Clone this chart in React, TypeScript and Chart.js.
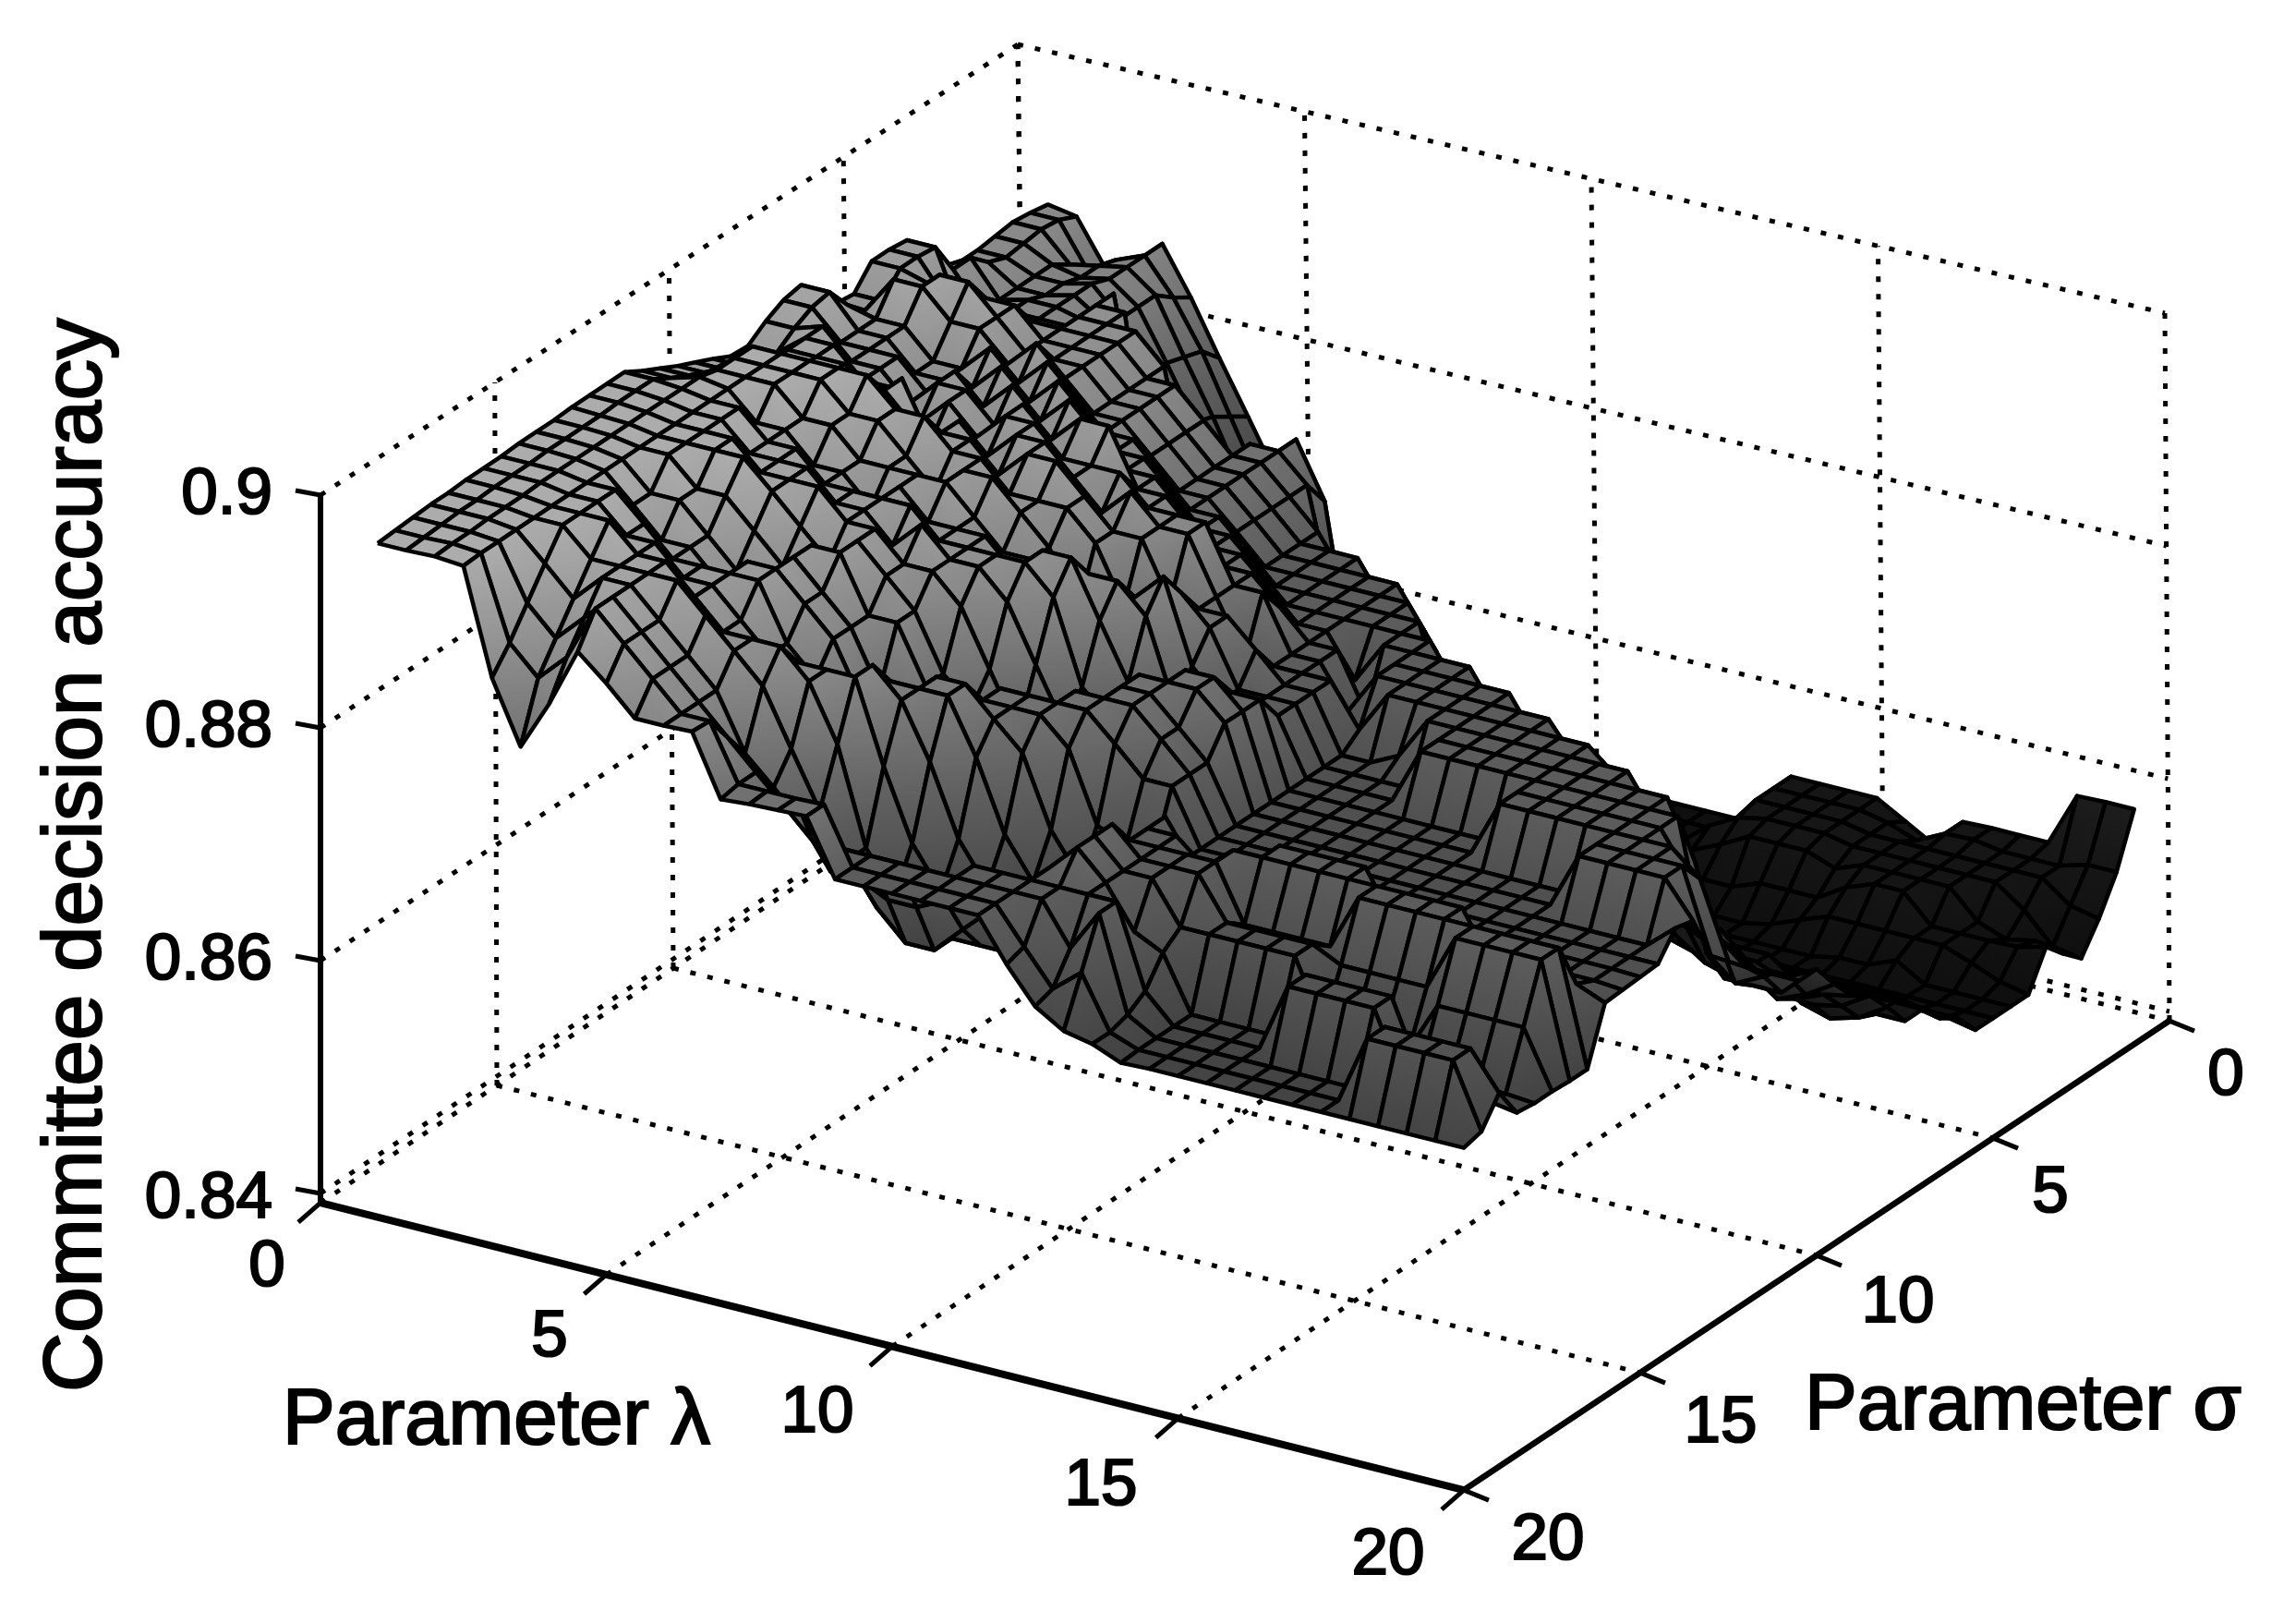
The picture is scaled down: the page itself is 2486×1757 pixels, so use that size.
import React, { useEffect, useRef } from "react";
import { Chart, registerables } from "chart.js";

Chart.register(...registerables);

// Accuracy, in units of 0.0001 above 0.84.
// One row per lambda value (1 .. 20, step 0.5); each row runs sigma = 20 .. 1, step 0.5.
const rowL0100 = [571,572,573,574,574,575,575,575,576,576,576,577,577,577,577,568,560,552,545,538,530,529,540,548,551,530,515,513,531,531,529,488,486,480,480,482,484,482,479];
const rowL0150 = [571,572,573,574,574,575,575,575,576,576,576,576,577,577,577,568,560,552,545,538,530,529,540,548,551,530,515,513,531,531,529,500,500,486,480,482,484,482,475];
const rowL0200 = [572,573,573,574,574,574,575,575,575,575,575,575,575,575,575,575,571,571,571,548,548,548,548,524,524,524,548,524,524,500,470,470,470,470,470,470,460,445,437];
const rowL0250 = [570,571,571,571,571,571,571,571,571,571,571,571,571,571,571,571,571,571,571,548,548,548,524,524,524,524,548,548,500,500,476,476,476,470,470,465,465,460,439];
const rowL0300 = [480,500,524,548,571,571,571,571,548,548,571,571,571,571,571,548,571,571,571,548,548,524,524,524,500,500,524,548,524,500,476,476,476,476,476,470,470,470,470];
const rowL0350 = [427,476,500,524,548,571,548,548,524,548,548,571,571,548,548,548,548,571,571,548,524,524,500,500,500,500,524,524,524,500,476,476,470,460,452,452,452,440,430];
const rowL0400 = [470,500,524,548,548,548,548,524,524,524,548,571,548,548,548,524,548,548,571,548,548,500,524,524,500,524,500,500,500,500,500,500,500,410,410,410,405,400,384];
const rowL0450 = [521,548,548,548,548,548,524,524,500,500,524,548,548,548,524,524,524,548,548,524,500,524,524,500,524,500,524,500,500,500,500,500,381,375,370,365,360,350,340];
const rowL0500 = [500,524,524,524,548,524,524,524,524,500,500,524,548,524,524,500,524,524,548,524,524,500,500,524,500,524,500,500,500,500,500,345,320,320,320,315,310,300,295];
const rowL0550 = [476,500,500,500,524,500,500,524,524,524,524,500,524,524,524,524,524,500,524,524,500,524,524,500,524,500,476,476,476,476,476,300,300,290,285,285,285,285,285];
const rowL0600 = [476,476,476,476,500,500,476,476,500,500,524,524,524,500,524,500,524,524,524,500,524,524,500,524,500,476,476,476,476,476,360,262,250,238,238,238,238,238,238];
const rowL0650 = [477,476,452,428,476,500,476,452,476,476,476,500,500,524,500,500,500,524,500,524,524,500,524,500,476,476,452,452,452,452,310,238,225,214,200,196,194,194,194];
const rowL0700 = [425,428,428,405,428,476,476,452,428,428,476,476,500,500,500,500,476,500,500,524,500,500,524,476,476,452,428,428,428,428,428,300,225,210,200,194,194,194,194];
const rowL0750 = [427,428,405,381,381,428,476,476,452,428,428,428,476,500,500,476,476,476,500,500,476,500,476,476,452,428,428,428,428,428,428,428,238,214,200,190,190,190,194];
const rowL0800 = [428,428,381,345,345,345,405,452,452,452,428,405,428,476,500,500,452,428,476,476,500,476,476,452,428,428,405,405,405,405,405,381,225,190,167,155,150,150,150];
const rowL0850 = [429,429,381,345,310,310,345,405,452,452,428,428,381,428,476,500,476,428,428,476,476,476,452,428,428,405,381,381,381,381,300,238,200,167,150,143,143,143,140];
const rowL0900 = [381,381,381,333,286,286,310,345,405,428,428,428,405,381,405,452,476,452,428,428,476,476,428,428,405,381,381,381,381,345,262,225,180,150,135,135,135,135,135];
const rowL0950 = [381,381,381,333,286,286,286,310,345,405,428,428,428,405,381,405,452,476,452,428,428,428,428,405,381,381,381,381,381,300,238,200,167,143,125,125,125,125,121];
const rowL1000 = [381,381,381,345,310,286,286,286,310,345,405,428,428,428,428,405,381,405,428,428,381,428,405,381,381,381,381,381,345,270,225,180,143,119,110,108,108,108,108];
const rowL1050 = [381,381,381,381,333,286,286,286,286,310,345,405,428,428,428,428,405,381,381,405,381,381,381,381,381,381,381,381,310,238,200,167,130,110,108,108,108,108,108];
const rowL1100 = [381,381,381,381,333,310,286,286,286,310,333,381,405,405,428,428,405,381,381,381,381,381,381,345,381,381,381,345,262,214,190,150,125,110,100,100,100,100,100];
const rowL1150 = [381,381,381,381,381,333,310,286,286,310,333,381,381,381,405,405,405,381,381,381,381,345,333,381,381,381,345,262,214,190,150,125,119,100,100,100,100,100,100];
const rowL1200 = [345,350,381,381,405,405,405,381,381,381,333,333,333,333,333,333,333,333,333,333,345,381,381,381,381,300,238,190,150,125,110,100,95,95,100,100,100,100,100];
const rowL1250 = [315,320,345,381,381,381,381,381,381,345,333,333,333,333,333,333,333,333,333,333,381,381,381,381,345,262,225,180,143,125,110,100,95,95,100,100,100,100,100];
const rowL1300 = [300,340,381,381,345,381,381,381,360,333,333,333,333,333,333,333,333,333,333,345,381,381,381,381,300,250,214,167,143,119,100,100,95,95,100,110,100,100,100];
const rowL1350 = [295,295,300,310,333,345,381,381,381,345,333,333,333,333,333,333,333,333,333,381,381,381,381,345,262,238,190,150,130,119,100,100,95,100,119,130,119,100,100];
const rowL1400 = [285,286,286,286,286,345,345,333,381,381,340,333,333,333,333,333,333,381,381,381,381,381,381,310,250,214,180,143,130,110,100,95,95,110,130,143,148,148,148];
const rowL1450 = [286,286,286,286,286,345,345,333,381,381,340,333,333,333,333,333,333,381,381,381,381,381,345,262,238,200,167,143,130,110,100,95,95,110,143,148,148,148,148];
const rowL1500 = [286,286,286,286,286,345,345,333,381,381,340,333,333,333,333,333,333,381,381,381,381,381,300,250,225,190,167,143,125,110,100,95,95,119,143,148,148,148,148];
const rowL1550 = [286,286,286,286,286,345,345,333,381,381,340,333,333,333,333,333,333,381,381,381,381,350,260,238,214,180,150,143,125,110,95,95,100,119,143,148,148,148,148];
const rowL1600 = [286,286,286,345,345,290,333,381,381,340,333,333,333,333,333,381,381,381,381,381,381,320,250,238,200,167,143,143,125,100,95,95,110,119,134,143,143,143,134];
const rowL1650 = [286,286,286,345,345,290,333,381,381,340,333,333,333,333,333,381,381,381,381,381,360,270,238,214,190,150,143,143,119,100,95,95,119,134,143,143,143,134,120];
const rowL1700 = [286,286,286,345,345,290,333,381,381,340,333,333,333,333,333,381,381,381,381,381,330,250,238,200,180,143,143,143,119,100,95,100,119,143,143,143,143,146,146];
const rowL1750 = [286,286,286,345,345,290,333,381,381,340,333,333,333,333,333,381,381,381,381,345,260,238,214,190,167,143,143,125,119,95,95,100,119,143,143,143,143,147,147];
const rowL1800 = [286,345,345,290,286,333,381,381,340,333,333,333,333,381,381,381,381,381,381,320,250,238,200,190,167,143,143,119,119,95,95,110,119,119,143,143,143,143,147];
const rowL1850 = [286,345,345,290,286,333,381,381,340,333,333,333,333,381,381,381,381,381,330,260,238,215,190,180,150,143,143,125,119,95,95,95,119,119,119,143,143,143,147];
const rowL1900 = [286,345,345,290,286,333,381,381,340,333,333,333,333,381,381,381,345,270,238,238,215,190,180,165,143,143,143,125,119,100,95,95,110,119,110,125,143,143,193];
const rowL1950 = [286,345,345,290,286,333,381,381,340,333,333,333,333,381,381,360,300,250,238,238,225,200,190,170,150,143,143,130,115,100,95,95,100,120,115,100,125,150,194];
const rowL2000 = [286,290,313,286,284,284,283,283,330,331,332,333,354,350,310,295,280,262,238,238,238,215,195,185,165,143,143,125,115,95,95,95,95,126,110,96,120,150,194];

const surfaceRows = [rowL0100,rowL0150,rowL0200,rowL0250,rowL0300,rowL0350,rowL0400,rowL0450,rowL0500,rowL0550,rowL0600,rowL0650,rowL0700,rowL0750,rowL0800,rowL0850,rowL0900,rowL0950,rowL1000,rowL1050,rowL1100,rowL1150,rowL1200,rowL1250,rowL1300,rowL1350,rowL1400,rowL1450,rowL1500,rowL1550,rowL1600,rowL1650,rowL1700,rowL1750,rowL1800,rowL1850,rowL1900,rowL1950,rowL2000];

const lambdaTicks = [0, 5, 10, 15, 20];
const sigmaTicks = [0, 5, 10, 15, 20];
const zTicks = [0.84, 0.86, 0.88, 0.9];
const zTickLabels = ["0.84", "0.86", "0.88", "0.9"];

const Z_FLOOR = -8;
const Z_TOP = 600;

function u(z: number) { return (z - 0.84) * 10000; }

function project(lam: number, sig: number, uz: number) {
  const t = 20 - sig;
  return { x: 347 + 61.9 * lam + 38.2 * t, y: 1292 + 15.55 * lam - 25.4 * t - 1.26 * uz };
}
// walls carry the slight perspective of the original box
function projectBox(lam: number, sig: number, uz: number) {
  const p = project(lam, sig, uz);
  const t = 20 - sig;
  const h = (uz - Z_FLOOR) / (Z_TOP - Z_FLOOR);
  return { x: p.x - (9 - (4 * lam) / 20) * (t / 20) * h, y: p.y + 20 * (t / 20) * (1 - lam / 20) * h };
}

const GRAY_STOPS: [number, number][] = [[90, 14], [150, 22], [200, 30], [286, 68], [381, 92], [476, 135], [571, 172]];
function gray(v: number) {
  if (v <= GRAY_STOPS[0][0]) return GRAY_STOPS[0][1];
  for (let i = 1; i < GRAY_STOPS.length; i++) {
    const [a, ga] = GRAY_STOPS[i - 1];
    const [b, gb] = GRAY_STOPS[i];
    if (v <= b) return ga + ((gb - ga) * (v - a)) / (b - a);
  }
  return GRAY_STOPS[GRAY_STOPS.length - 1][1];
}
const grayCss = (v: number) => { const g = Math.round(gray(v)); return `rgb(${g},${g},${g})`; };

function buildSurface() {
  const back: any[] = [];
  for (let i = 0; i < surfaceRows.length - 1; i++) {
    for (let k = 37; k >= 0; k--) {
      const verts = [
        { l: 1 + i / 2, s: 20 - k / 2, v: surfaceRows[i][k] },
        { l: 1 + i / 2, s: 20 - (k + 1) / 2, v: surfaceRows[i][k + 1] },
        { l: 1 + (i + 1) / 2, s: 20 - (k + 1) / 2, v: surfaceRows[i + 1][k + 1] },
        { l: 1 + (i + 1) / 2, s: 20 - k / 2, v: surfaceRows[i + 1][k] },
      ];
      const pts = verts.map((q) => project(q.l, q.s, q.v));
      pts.push(pts[0]);
      let hi = 0, lo = 0;
      verts.forEach((q, n) => { if (q.v > verts[hi].v) hi = n; if (q.v < verts[lo].v) lo = n; });
      const pHi = pts[hi], pLo = pts[lo], vHi = verts[hi].v, vLo = verts[lo].v;
      back.push({
        data: pts,
        showLine: true,
        fill: "shape",
        pointRadius: 0,
        borderColor: "#000",
        borderWidth: 4.5,
        borderJoinStyle: "round",
        backgroundColor: (c: any) => {
          if (vHi === vLo) return grayCss(vHi);
          const sx = c.chart.scales.x, sy = c.chart.scales.y;
          const x0 = sx ? sx.getPixelForValue(pHi.x) : NaN, y0 = sy ? sy.getPixelForValue(pHi.y) : NaN;
          const x1 = sx ? sx.getPixelForValue(pLo.x) : NaN, y1 = sy ? sy.getPixelForValue(pLo.y) : NaN;
          if (![x0, y0, x1, y1].every(Number.isFinite)) return grayCss(vHi);
          const g = c.chart.ctx.createLinearGradient(x0, y0, x1, y1);
          g.addColorStop(0, grayCss(vHi));
          g.addColorStop(1, grayCss(vLo));
          return g;
        },
      });
    }
  }
  return back;
}

function seg(a: any, b: any, width: number, dash: number[] = []) {
  return { data: [a, b], showLine: true, fill: false, pointRadius: 0, borderColor: "#000", borderWidth: width, borderDash: dash, borderCapStyle: "butt" };
}

function buildBox() {
  const dot = [6, 13];
  const out: any[] = [];
  const F = Z_FLOOR, T = Z_TOP;
  for (const s of sigmaTicks) {
    if (s !== 20) out.push(seg(projectBox(0, s, F), projectBox(20, s, F), 5, dot));
    if (s !== 20) out.push(seg(projectBox(0, s, F), projectBox(0, s, T), 5, dot));
  }
  for (const l of lambdaTicks) {
    if (l !== 20) out.push(seg(projectBox(l, 20, F), projectBox(l, 0, F), 5, dot));
    out.push(seg(projectBox(l, 0, F), projectBox(l, 0, T), 5, dot));
  }
  for (const z of zTicks) {
    out.push(seg(projectBox(0, 20, u(z)), projectBox(0, 0, u(z)), 5, dot));
    out.push(seg(projectBox(0, 0, u(z)), projectBox(20, 0, u(z)), 5, dot));
  }
  return out;
}

function off(p: any, dx: number, dy: number) { return { x: p.x + dx, y: p.y + dy }; }

function buildAxes() {
  const out: any[] = [];
  const O = project(0, 20, Z_FLOOR), B = project(20, 20, Z_FLOOR), C = project(20, 0, Z_FLOOR);
  out.push(seg(O, B, 8));
  out.push(seg(B, C, 6.5));
  out.push(seg(O, project(0, 20, Z_TOP), 6));
  for (const l of lambdaTicks) { const p = project(l, 20, Z_FLOOR); out.push(seg(p, off(p, -24, 21), 5)); }
  for (const s of sigmaTicks) { const p = project(20, s, Z_FLOOR); out.push(seg(p, off(p, 27, 11), 5)); }
  for (const z of zTicks) { const p = project(0, 20, u(z)); out.push(seg(p, off(p, -27, -5), 5)); }
  return out;
}

const FONT = '"Liberation Sans", Arial, sans-serif';
const TICK_PX = 71;
const LABEL_PX = 85;
const TITLE_PX = 89;
const INK = 2.2;
const lambdaLabelPos = [[289, 1372], [595, 1448], [885, 1530], [1192, 1609], [1503, 1684]];
const sigmaLabelPos = [[2410, 1165], [2220, 1292], [2055, 1411], [1863, 1541], [1676, 1668]];
const zLabelRight = 295;
const zLabelY = [1298, 1040, 788, 536];

function ink(c: any, s: string, x: number, y: number) {
  c.fillText(s, x, y);
  c.strokeText(s, x, y);
}

const textPlugin = {
  id: "textLayer",
  afterDraw(chart: any) {
    const c = chart.ctx;
    c.save();
    c.fillStyle = "#000";
    c.strokeStyle = "#000";
    c.lineWidth = INK;
    c.font = `${TICK_PX}px ${FONT}`;
    c.textAlign = "center";
    c.textBaseline = "middle";
    lambdaTicks.forEach((v, i) => ink(c, String(v), lambdaLabelPos[i][0], lambdaLabelPos[i][1]));
    sigmaTicks.forEach((v, i) => ink(c, String(v), sigmaLabelPos[i][0], sigmaLabelPos[i][1]));
    c.textAlign = "right";
    zTickLabels.forEach((v, i) => ink(c, v, zLabelRight, zLabelY[i]));
    c.font = `${LABEL_PX}px ${FONT}`;
    c.textAlign = "left";
    c.textBaseline = "alphabetic";
    ink(c, "Parameter λ", 306, 1563);
    ink(c, "Parameter σ", 1954, 1547);
    c.font = `${TITLE_PX}px ${FONT}`;
    c.translate(109, 1507);
    c.rotate(-Math.PI / 2);
    ink(c, "Committee decision accuracy", 0, 0);
    c.restore();
  },
};

export default function App() {
  const ref = useRef<HTMLCanvasElement | null>(null);
  useEffect(() => {
    if (!ref.current) return;
    // first dataset is painted last, so the list runs front to back
    const datasets = [...buildAxes(), ...buildSurface().reverse(), ...buildBox()];
    const chart = new Chart(ref.current, {
      type: "scatter",
      data: { datasets },
      plugins: [textPlugin],
      options: {
        animation: false,
        responsive: false,
        devicePixelRatio: 1,
        layout: { padding: 0 },
        parsing: false,
        plugins: { legend: { display: false }, tooltip: { enabled: false }, title: { display: false } },
        scales: {
          x: { type: "linear", min: 0, max: 2486, display: false },
          y: { type: "linear", min: 0, max: 1757, reverse: true, display: false },
        },
      },
    } as any);
    return () => chart.destroy();
  }, []);
  return (
    <div style={{ position: "absolute", left: 0, top: 0, width: 2486, height: 1757, background: "#fff" }}>
      <canvas ref={ref} width={2486} height={1757} style={{ display: "block" }} />
    </div>
  );
}
